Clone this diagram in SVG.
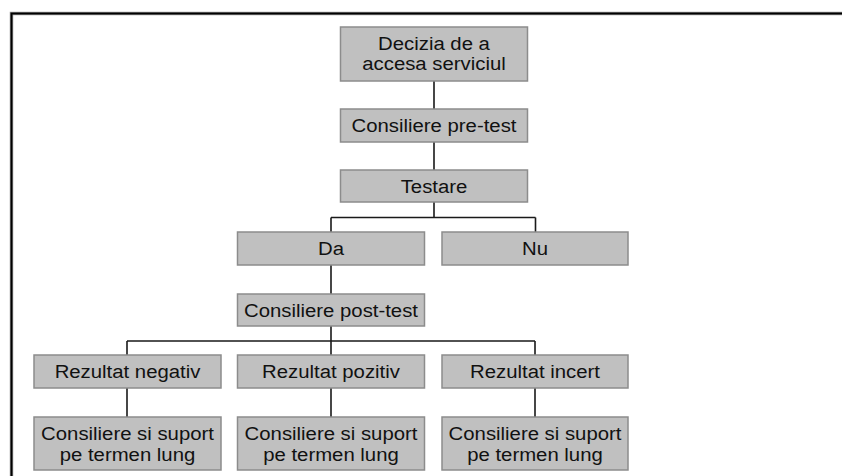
<svg xmlns="http://www.w3.org/2000/svg" width="842" height="476" viewBox="0 0 842 476">
  <style>
    .box { fill: #c0c0c0; stroke: #8c8c8c; stroke-width: 1.5; }
    .lbl { font-family: "Liberation Sans", Arial, sans-serif; font-size: 18px; fill: #111; text-anchor: middle; }
    .con { fill: none; stroke: #1a1a1a; stroke-width: 1.6; }
  </style>
  <rect width="842" height="476" fill="#ffffff"/>
  <g id="frame">
    <rect x="11.5" y="13.5" width="840" height="470" fill="none" stroke="#9a9a9a" stroke-width="3.5"/>
    <rect x="11.5" y="13.5" width="840" height="470" fill="none" stroke="#000" stroke-width="2"/>
  </g>
  <g id="connectors">
    <path class="con" d="M434 81 V109 M434 142 V170 M434 202 V217.5 M331 217.5 H535.5 M331 217.5 V232 M535.5 217.5 V232"/>
    <path class="con" d="M331 265 V294 M331 326 V341 M127 341 H535 M127 341 V355 M331 341 V355 M535 341 V355"/>
    <path class="con" d="M127 388 V417 M331 388 V417 M535 388 V417"/>
  </g>
  <g id="decizia">
    <rect class="box" x="340.5" y="27" width="187" height="54"/>
    <text class="lbl" transform="translate(434,49.5) scale(1.13,1)">Decizia de a</text>
    <text class="lbl" transform="translate(434,69.5) scale(1.13,1)">accesa serviciul</text>
  </g>
  <g id="pretest">
    <rect class="box" x="340.5" y="109" width="187" height="33"/>
    <text class="lbl" transform="translate(434,132) scale(1.13,1)">Consiliere pre-test</text>
  </g>
  <g id="testare">
    <rect class="box" x="340.5" y="170" width="187" height="32"/>
    <text class="lbl" transform="translate(434,192.5) scale(1.13,1)">Testare</text>
  </g>
  <g id="da">
    <rect class="box" x="237.5" y="232" width="187" height="33"/>
    <text class="lbl" transform="translate(331,255) scale(1.13,1)">Da</text>
  </g>
  <g id="nu">
    <rect class="box" x="442" y="232" width="186" height="33"/>
    <text class="lbl" transform="translate(535,255) scale(1.13,1)">Nu</text>
  </g>
  <g id="posttest">
    <rect class="box" x="237.5" y="294" width="187" height="32"/>
    <text class="lbl" transform="translate(331,316.5) scale(1.13,1)">Consiliere post-test</text>
  </g>
  <g id="negativ">
    <rect class="box" x="34" y="355" width="187" height="33"/>
    <text class="lbl" transform="translate(127.5,378) scale(1.13,1)">Rezultat negativ</text>
  </g>
  <g id="pozitiv">
    <rect class="box" x="237.5" y="355" width="187" height="33"/>
    <text class="lbl" transform="translate(331,378) scale(1.13,1)">Rezultat pozitiv</text>
  </g>
  <g id="incert">
    <rect class="box" x="442" y="355" width="186" height="33"/>
    <text class="lbl" transform="translate(535,378) scale(1.13,1)">Rezultat incert</text>
  </g>
  <g id="suport1">
    <rect class="box" x="34" y="417" width="187" height="53"/>
    <text class="lbl" transform="translate(127.5,440) scale(1.13,1)">Consiliere si suport</text>
    <text class="lbl" transform="translate(127.5,460.5) scale(1.13,1)">pe termen lung</text>
  </g>
  <g id="suport2">
    <rect class="box" x="237.5" y="417" width="187" height="53"/>
    <text class="lbl" transform="translate(331,440) scale(1.13,1)">Consiliere si suport</text>
    <text class="lbl" transform="translate(331,460.5) scale(1.13,1)">pe termen lung</text>
  </g>
  <g id="suport3">
    <rect class="box" x="442" y="417" width="186" height="53"/>
    <text class="lbl" transform="translate(535,440) scale(1.13,1)">Consiliere si suport</text>
    <text class="lbl" transform="translate(535,460.5) scale(1.13,1)">pe termen lung</text>
  </g>
</svg>
